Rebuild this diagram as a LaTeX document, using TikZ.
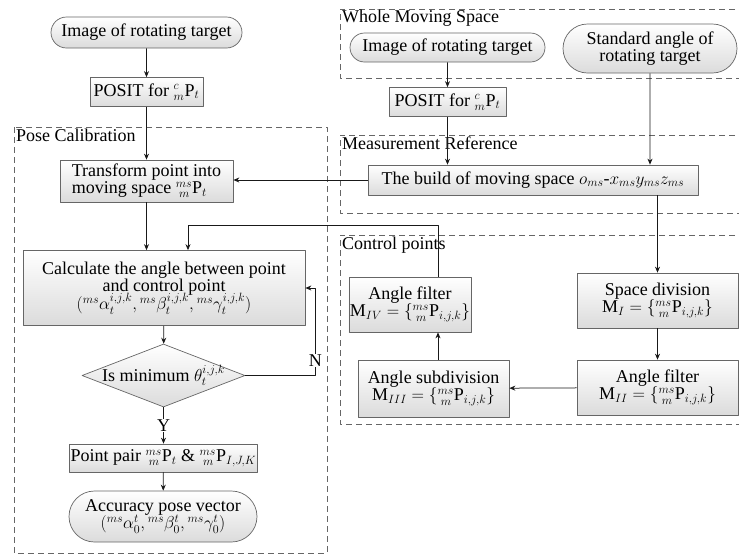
\documentclass[tikz,border=0pt]{standalone}
\usepackage{amsmath}
\usepackage{fontspec}
\setmainfont{Liberation Serif}
\usetikzlibrary{shapes.geometric,shapes.misc,arrows.meta}

\begin{document}
\begin{tikzpicture}[x=1pt, y=-1pt, font=\fontsize{18}{20}\selectfont, line join=round, >={Stealth[length=6pt,width=5pt]},
	box/.style={draw=gray!80!black, line width=0.7pt, top color=white, bottom color=gray!28, inner sep=1pt},
	pill/.style={box, rounded rectangle},
	decision/.style={box, diamond, inner sep=0pt},
	group/.style={draw=gray!80!black, dashed, dash pattern=on 6pt off 4pt, line width=0.9pt},
	grouplabel/.style={anchor=north west, inner sep=2pt},
	link/.style={->, draw=black!90, line width=0.75pt}]
	\useasboundingbox (0,0) rectangle (739,555);
	% dashed groups
	\draw[group] (14,127) rectangle (327,553);
	\node[grouplabel] (pclab) at (14,127) {Pose Calibration};
	\draw[group] (745,9) -- (340,9) -- (340,78) -- (745,78);
	\node[grouplabel] (wmlab) at (340,8) {Whole Moving Space};
	\draw[group] (745,135) -- (340,135) -- (340,213) -- (745,213);
	\node[grouplabel] (mrlab) at (340,135) {Measurement Reference};
	\draw[group] (745,235) -- (340,235) -- (340,424) -- (745,424);
	\node[grouplabel] (cplab) at (340,235) {Control points};
	% left column
	\node[pill, minimum width=193pt, minimum height=31pt] (img1) at (146.5,32.5) {Image of rotating target};
	\node[box, minimum width=113pt, minimum height=29pt] (posit1) at (146.5,92) {POSIT for ${}^{c}_{m}\mathrm{P}_{t}$};
	\node[box, minimum width=173pt, minimum height=42pt, align=left] (trans) at (146.5,181)
		{Transform point into\\[-3pt]moving space ${}^{ms}_{\;m}\mathrm{P}_{t}$};
	\node[box, minimum width=282pt, minimum height=75pt, align=center] (calc) at (164,288)
		{Calculate the angle between point\\[-3pt]and control point\\[-3pt]$({}^{ms}\alpha_t^{i,j,k},{}^{ms}\beta_t^{i,j,k},{}^{ms}\gamma_t^{i,j,k})$};
	\node[decision, minimum width=163pt, minimum height=63pt, label={center:Is minimum $\theta_t^{i,j,k}$}] (dec) at (163.5,375.5) {};
	\node[box, minimum width=181pt, minimum height=28pt] (pair) at (163.5,458)
		{Point pair ${}^{ms}_{\;m}\mathrm{P}_{t}$ \& ${}^{ms}_{\;m}\mathrm{P}_{I,J,K}$};
	\node[pill, minimum width=190pt, minimum height=51pt, align=center] (acc) at (163,516.5)
		{Accuracy pose vector\\[-3pt]$({}^{ms}\alpha_0^t,{}^{ms}\beta_0^t,{}^{ms}\gamma_0^t)$};
	% right column
	\node[pill, minimum width=197pt, minimum height=29pt] (img2) at (447.5,47.5) {Image of rotating target};
	\node[pill, minimum width=176pt, minimum height=49pt, align=center] (std) at (650,48.5) {Standard angle of\\[-3pt]rotating target};
	\node[box, minimum width=117pt, minimum height=29pt] (posit2) at (447.5,102) {POSIT for ${}^{c}_{m}\mathrm{P}_{t}$};
	\node[box, minimum width=330pt, minimum height=30pt] (build) at (533,180)
		{The build of moving space $o_{ms}$-$x_{ms}y_{ms}z_{ms}$};
	\node[box, minimum width=106pt, minimum height=55pt, align=center] (m4) at (410,304.5)
		{Angle filter\\[-3pt]$\mathrm{M}_{IV}=\left\{{}^{ms}_{\;m}\mathrm{P}_{i,j,k}\right\}$};
	\node[box, minimum width=161pt, minimum height=55pt, align=center] (m1) at (657.5,300.5)
		{Space division\\[-3pt]$\mathrm{M}_{I}=\left\{{}^{ms}_{\;m}\mathrm{P}_{i,j,k}\right\}$};
	\node[box, minimum width=151pt, minimum height=57pt, align=center] (m3) at (433.5,388.5)
		{Angle subdivision\\[-3pt]$\mathrm{M}_{III}=\left\{{}^{ms}_{\;m}\mathrm{P}_{i,j,k}\right\}$};
	\node[box, minimum width=161pt, minimum height=55pt, align=center] (m2) at (657.5,387.5)
		{Angle filter\\[-3pt]$\mathrm{M}_{II}=\left\{{}^{ms}_{\;m}\mathrm{P}_{i,j,k}\right\}$};
	\coordinate (fb) at (188,225);
	% connectors
	\draw[link] (img1) -- (posit1);
	\draw[link] (posit1) -- (trans);
	\draw[link] (trans) -- (trans |- calc.north);
	\draw[link] (calc) -- (dec);
	\draw[link] (dec) -- node[fill=white, inner sep=1pt] (ylab) {Y} (pair);
	\draw[link] (pair) -- (acc);
	\draw[link] (dec.east) -- ++(70,0) coordinate (nc) |- (calc.east);
	\node[fill=white, inner sep=1pt] (nlab) at ([yshift=15pt]nc) {N};
	\draw[link] (img2) -- (posit2);
	\draw[link] (posit2) -- (posit2 |- build.north);
	\draw[link] (std) -- (std |- build.north);
	\draw[link] (build.west) -- (build.west -| trans.east);
	\draw[link] (build.south -| m1) -- (m1);
	\draw[link] (m1) -- (m2);
	\draw[link] (m2) -- (m3);
	\draw[link] ([xshift=4.5pt]m3.north) -- ([xshift=4.5pt]m3.north |- m4.south);
	\draw[link] ([xshift=28pt]m4.north) |- (fb) -- (fb |- calc.north);
\end{tikzpicture}
\end{document}
